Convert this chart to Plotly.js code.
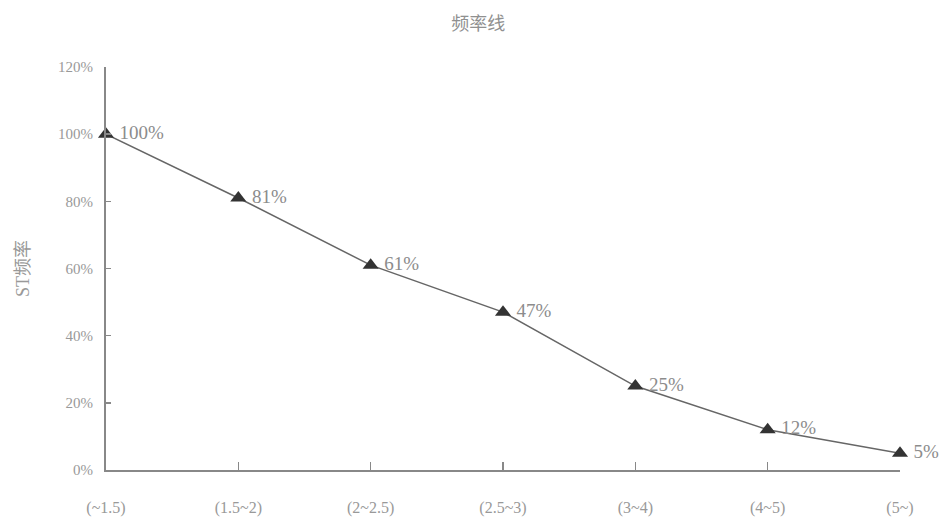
<!DOCTYPE html>
<html>
<head>
<meta charset="utf-8">
<script src="https://cdn.plot.ly/plotly-3.0.1.min.js"></script>
<style>html,body{margin:0;padding:0;background:#fff;}#chart{width:945px;height:532px;}</style>
</head>
<body>
<div id="chart"></div>
<script>
const categories = ["(~1.5)", "(1.5~2)", "(2~2.5)", "(2.5~3)", "(3~4)", "(4~5)", "(5~)"];
const frequency = [1.00, 0.81, 0.61, 0.47, 0.25, 0.12, 0.05];
const pointLabels = ["100%", "81%", "61%", "47%", "25%", "12%", "5%"];
const yTickValues = [0, 0.2, 0.4, 0.6, 0.8, 1.0, 1.2];
const yTickLabels = ["0%", "20%", "40%", "60%", "80%", "100%", "120%"];

const serif = "Liberation Serif, DejaVu Serif, serif";
const cjk = "Liberation Serif, Noto Sans CJK SC, serif";

const trace = {
  x: categories,
  y: frequency,
  type: "scatter",
  mode: "lines+markers+text",
  text: pointLabels.map(s => "\u2009" + s),
  textposition: "middle right",
  textfont: {family: serif, size: 19, color: "#8c8c8c"},
  line: {color: "#666666", width: 1.5},
  marker: {symbol: "triangle-up", size: 14, color: "#333333"},
  cliponaxis: false,
  hoverinfo: "skip"
};

const layout = {
  width: 945, height: 532,
  margin: {l: 106, r: 45, t: 67, b: 62},
  paper_bgcolor: "#ffffff",
  plot_bgcolor: "#ffffff",
  showlegend: false,
  title: {text: "频率线", x: 0.506, xanchor: "center", y: 0.955, yanchor: "middle",
          font: {family: cjk, size: 18, color: "#909090"}},
  xaxis: {
    type: "category",
    range: [0, 6],
    showgrid: false, zeroline: false,
    showline: true, linecolor: "#888888", linewidth: 2,
    ticks: "inside", ticklen: 8, tickcolor: "#888888", tickwidth: 1.5,
    tickfont: {family: serif, size: 16, color: "#999999"},
    ticklabelstandoff: 22
  },
  yaxis: {
    range: [0, 1.2],
    tickvals: yTickValues, ticktext: yTickLabels,
    showgrid: false, zeroline: false,
    showline: true, linecolor: "#888888", linewidth: 2,
    ticks: "inside", ticklen: 5, tickcolor: "#888888", tickwidth: 1.5,
    tickfont: {family: serif, size: 15, color: "#999999"},
    ticklabelstandoff: 8,
    title: {text: "ST频率", standoff: 24, font: {family: cjk, size: 18, color: "#999999"}}
  }
};

Plotly.newPlot("chart", [trace], layout, {displayModeBar: false, staticPlot: true});
</script>
</body>
</html>
